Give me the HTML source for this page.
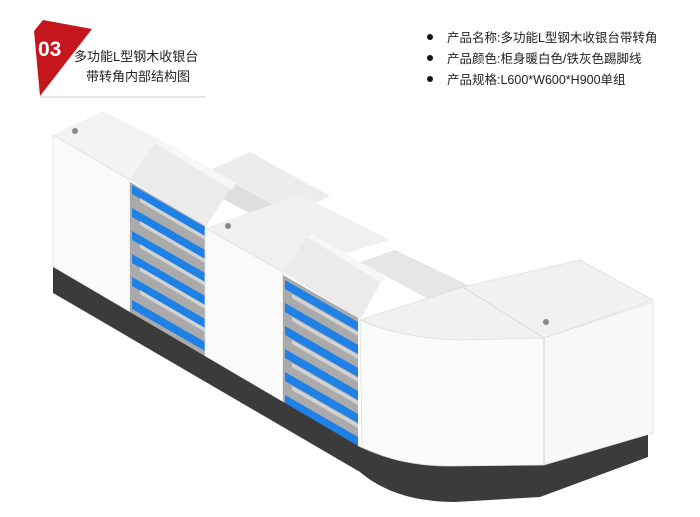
<!DOCTYPE html>
<html><head><meta charset="utf-8"><style>
html,body{margin:0;padding:0;background:#fff;}
body{width:700px;height:517px;overflow:hidden;position:relative;font-family:"Liberation Sans","Noto Sans CJK SC",sans-serif;}
</style></head><body>
<svg width="700" height="517" viewBox="0 0 700 517" xmlns="http://www.w3.org/2000/svg" style="position:absolute;left:0;top:0">
<!-- header -->
<polygon points="34,31 43,20 92,29 40,96" fill="#c4161c"/>
<line x1="40" y1="97" x2="205" y2="97" stroke="#ccc" stroke-width="1"/>
<text x="38" y="56" font-family="Liberation Sans,sans-serif" font-weight="bold" font-size="21" fill="#fff">03</text>
<text x="74" y="61" font-family="Liberation Sans,Noto Sans CJK SC,sans-serif" font-size="13" fill="#222">多功能L型钢木收银台</text>
<text x="86" y="81" font-family="Liberation Sans,Noto Sans CJK SC,sans-serif" font-size="13" fill="#222">带转角内部结构图</text>
<g font-family="Liberation Sans,Noto Sans CJK SC,sans-serif" font-size="12.5" fill="#222">
<circle cx="430" cy="37" r="3" fill="#111"/><text x="447" y="42">产品名称:多功能L型钢木收银台带转角</text>
<circle cx="430" cy="58" r="3" fill="#111"/><text x="447" y="63">产品颜色:柜身暖白色/铁灰色踢脚线</text>
<circle cx="430" cy="79" r="3" fill="#111"/><text x="447" y="84">产品规格:L600*W600*H900单组</text>
</g>
<!-- rear blocks -->
<polygon points="210,170 250,152 330,196 290,214" fill="#ececec"/>
<polygon points="210,170 290,214 290,235 210,192" fill="#dedede"/>
<polygon points="360,262 395,250 470,286 430,300" fill="#e6e6e6"/>
<!-- left cabinet -->
<polygon points="53,135 103,111 180,150 130,180" fill="#f3f3f3"/>
<polygon points="53,135 130,180 130,312 53,267" fill="#fafafa" stroke="#ddd" stroke-width="0.8"/>
<circle cx="75" cy="131" r="3" fill="#888"/>
<!-- shelves 1 -->
<polygon points="130,180 155,143 232,186 205,228" fill="#ebebeb"/>
<polygon points="155,143 160,140 236,183 232,190" fill="#f7f7f7"/>
<polygon points="130,182 205,226 205,372 130,330" fill="#aaaaaa"/>
<g fill="#1f80e6">
<polygon points="132,185 205,227 205,236 132,194"/>
<polygon points="132,208 205,250 205,259 132,217"/>
<polygon points="132,231 205,273 205,282 132,240"/>
<polygon points="132,254 205,296 205,305 132,263"/>
<polygon points="132,277 205,319 205,328 132,286"/>
<polygon points="132,300 205,342 205,351 132,309"/>
</g>
<g fill="#d2d2d2">
<polygon points="140,198 205,236 205,240 140,202"/>
<polygon points="140,221 205,259 205,263 140,225"/>
<polygon points="140,244 205,282 205,286 140,248"/>
<polygon points="140,267 205,305 205,309 140,271"/>
<polygon points="140,290 205,328 205,332 140,294"/>
</g>
<!-- middle cabinet -->
<polygon points="205,228 300,195 390,240 283,272" fill="#f0f0f0"/>
<polygon points="205,228 283,272 283,415 205,372" fill="#fafafa" stroke="#ddd" stroke-width="0.8"/>
<circle cx="228" cy="226" r="3" fill="#888"/>
<!-- shelves 2 -->
<polygon points="283,272 307,237 382,280 360,320" fill="#ebebeb"/>
<polygon points="307,237 312,234 386,277 382,283" fill="#f7f7f7"/>
<polygon points="283,275 358,318 358,460 283,418" fill="#aaaaaa"/>
<g fill="#1f80e6">
<polygon points="285,280 358,322 358,331 285,289"/>
<polygon points="285,303 358,345 358,354 285,312"/>
<polygon points="285,326 358,368 358,377 285,335"/>
<polygon points="285,349 358,391 358,400 285,358"/>
<polygon points="285,372 358,414 358,423 285,381"/>
<polygon points="285,395 358,437 358,446 285,404"/>
</g>
<g fill="#d2d2d2">
<polygon points="292,294 358,332 358,336 292,298"/>
<polygon points="292,317 358,355 358,359 292,321"/>
<polygon points="292,340 358,378 358,382 292,344"/>
<polygon points="292,363 358,401 358,405 292,367"/>
<polygon points="292,386 358,424 358,428 292,390"/>
</g>
<!-- plinth -->
<path d="M53,267 L360,447 Q400,466 450,466 L544,465 L648,433 L648,457 L540,497 L455,502 Q395,502 360,472 L60,297 L53,293 Z" fill="#3b3b3b"/>
<!-- right section top -->
<path d="M360,320 L463,287 L580,260 L653,300 L544,338 Q450,345 400,335 Z" fill="#f1f1f1" stroke="#ddd" stroke-width="0.8"/>
<line x1="463" y1="287" x2="544" y2="338" stroke="#d8d8d8"/>
<!-- curved front -->
<path d="M360,320 Q400,338 460,340 L544,338 L544,465 L450,466 Q400,466 362,447 Z" fill="#fbfbfb" stroke="#ddd" stroke-width="0.8"/>
<!-- right cabinet -->
<polygon points="544,338 653,302 653,433 544,465" fill="#f8f8f8" stroke="#ddd" stroke-width="0.8"/>
<line x1="544" y1="338" x2="544" y2="465" stroke="#ccc"/>
<circle cx="546" cy="322" r="3" fill="#888"/>
</svg>
</body></html>
